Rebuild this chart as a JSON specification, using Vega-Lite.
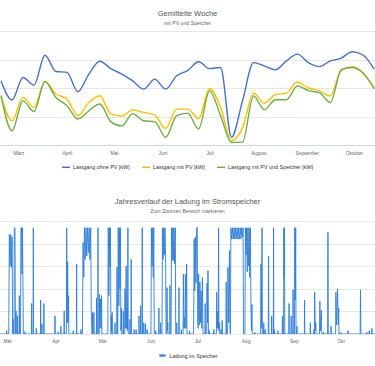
{
 "$schema": "https://vega.github.io/schema/vega-lite/v6.json",
 "background": "white",
 "padding": {"top": 10, "left": 0, "right": 0, "bottom": 0},
 "spacing": 27,
 "resolve": {"scale": {"color": "independent"}, "legend": {"color": "independent"}},
 "config": {
  "font": "Liberation Sans",
  "view": {"stroke": null},
  "title": {"fontSize": 7.5, "fontWeight": "normal", "color": "#555555", "subtitleFontSize": 5.2, "subtitleColor": "#666666", "subtitlePadding": 3, "anchor": "middle"},
  "legend": {"layout": {"bottom": {"anchor": "middle"}}}
 },
 "vconcat": [
  {
   "width": 375,
   "height": 114,
   "title": {"text": "Gemittelte Woche", "subtitle": "mit PV und Speicher", "offset": 5},
   "data": {"values": [
    {"woche":"2023-02-18T00:00","serie":"Lastgang ohne PV [kW]","wert":2.25},
    {"woche":"2023-02-25T00:00","serie":"Lastgang ohne PV [kW]","wert":1.58},
    {"woche":"2023-03-04T00:00","serie":"Lastgang ohne PV [kW]","wert":2.37},
    {"woche":"2023-03-11T00:00","serie":"Lastgang ohne PV [kW]","wert":2.10},
    {"woche":"2023-03-18T00:00","serie":"Lastgang ohne PV [kW]","wert":3.15},
    {"woche":"2023-03-25T00:00","serie":"Lastgang ohne PV [kW]","wert":2.58},
    {"woche":"2023-04-01T00:00","serie":"Lastgang ohne PV [kW]","wert":2.55},
    {"woche":"2023-04-08T00:00","serie":"Lastgang ohne PV [kW]","wert":1.87},
    {"woche":"2023-04-15T00:00","serie":"Lastgang ohne PV [kW]","wert":2.49},
    {"woche":"2023-04-22T00:00","serie":"Lastgang ohne PV [kW]","wert":2.94},
    {"woche":"2023-04-29T00:00","serie":"Lastgang ohne PV [kW]","wert":2.68},
    {"woche":"2023-05-06T00:00","serie":"Lastgang ohne PV [kW]","wert":2.49},
    {"woche":"2023-05-13T00:00","serie":"Lastgang ohne PV [kW]","wert":2.25},
    {"woche":"2023-05-20T00:00","serie":"Lastgang ohne PV [kW]","wert":1.96},
    {"woche":"2023-05-27T00:00","serie":"Lastgang ohne PV [kW]","wert":2.31},
    {"woche":"2023-06-03T00:00","serie":"Lastgang ohne PV [kW]","wert":1.96},
    {"woche":"2023-06-10T00:00","serie":"Lastgang ohne PV [kW]","wert":2.43},
    {"woche":"2023-06-17T00:00","serie":"Lastgang ohne PV [kW]","wert":2.61},
    {"woche":"2023-06-24T00:00","serie":"Lastgang ohne PV [kW]","wert":2.92},
    {"woche":"2023-07-01T00:00","serie":"Lastgang ohne PV [kW]","wert":2.68},
    {"woche":"2023-07-08T00:00","serie":"Lastgang ohne PV [kW]","wert":2.72},
    {"woche":"2023-07-15T00:00","serie":"Lastgang ohne PV [kW]","wert":0.27},
    {"woche":"2023-07-22T00:00","serie":"Lastgang ohne PV [kW]","wert":1.55},
    {"woche":"2023-07-29T00:00","serie":"Lastgang ohne PV [kW]","wert":2.89},
    {"woche":"2023-08-05T00:00","serie":"Lastgang ohne PV [kW]","wert":2.77},
    {"woche":"2023-08-12T00:00","serie":"Lastgang ohne PV [kW]","wert":2.64},
    {"woche":"2023-08-19T00:00","serie":"Lastgang ohne PV [kW]","wert":2.95},
    {"woche":"2023-08-26T00:00","serie":"Lastgang ohne PV [kW]","wert":3.19},
    {"woche":"2023-09-02T00:00","serie":"Lastgang ohne PV [kW]","wert":2.89},
    {"woche":"2023-09-09T00:00","serie":"Lastgang ohne PV [kW]","wert":2.75},
    {"woche":"2023-09-16T00:00","serie":"Lastgang ohne PV [kW]","wert":2.95},
    {"woche":"2023-09-23T00:00","serie":"Lastgang ohne PV [kW]","wert":3.05},
    {"woche":"2023-09-30T00:00","serie":"Lastgang ohne PV [kW]","wert":3.27},
    {"woche":"2023-10-07T00:00","serie":"Lastgang ohne PV [kW]","wert":3.15},
    {"woche":"2023-10-14T00:00","serie":"Lastgang ohne PV [kW]","wert":2.66},
    {"woche":"2023-02-18T00:00","serie":"Lastgang mit PV [kW]","wert":1.73},
    {"woche":"2023-02-25T00:00","serie":"Lastgang mit PV [kW]","wert":0.85},
    {"woche":"2023-03-04T00:00","serie":"Lastgang mit PV [kW]","wert":1.67},
    {"woche":"2023-03-11T00:00","serie":"Lastgang mit PV [kW]","wert":1.32},
    {"woche":"2023-03-18T00:00","serie":"Lastgang mit PV [kW]","wert":2.23},
    {"woche":"2023-03-25T00:00","serie":"Lastgang mit PV [kW]","wert":1.79},
    {"woche":"2023-04-01T00:00","serie":"Lastgang mit PV [kW]","wert":1.61},
    {"woche":"2023-04-08T00:00","serie":"Lastgang mit PV [kW]","wert":1.03},
    {"woche":"2023-04-15T00:00","serie":"Lastgang mit PV [kW]","wert":1.49},
    {"woche":"2023-04-22T00:00","serie":"Lastgang mit PV [kW]","wert":1.73},
    {"woche":"2023-04-29T00:00","serie":"Lastgang mit PV [kW]","wert":1.09},
    {"woche":"2023-05-06T00:00","serie":"Lastgang mit PV [kW]","wert":1.02},
    {"woche":"2023-05-13T00:00","serie":"Lastgang mit PV [kW]","wert":1.23},
    {"woche":"2023-05-20T00:00","serie":"Lastgang mit PV [kW]","wert":1.14},
    {"woche":"2023-05-27T00:00","serie":"Lastgang mit PV [kW]","wert":1.05},
    {"woche":"2023-06-03T00:00","serie":"Lastgang mit PV [kW]","wert":0.58},
    {"woche":"2023-06-10T00:00","serie":"Lastgang mit PV [kW]","wert":1.26},
    {"woche":"2023-06-17T00:00","serie":"Lastgang mit PV [kW]","wert":1.26},
    {"woche":"2023-06-24T00:00","serie":"Lastgang mit PV [kW]","wert":0.93},
    {"woche":"2023-07-01T00:00","serie":"Lastgang mit PV [kW]","wert":1.98},
    {"woche":"2023-07-08T00:00","serie":"Lastgang mit PV [kW]","wert":1.32},
    {"woche":"2023-07-15T00:00","serie":"Lastgang mit PV [kW]","wert":0.15},
    {"woche":"2023-07-22T00:00","serie":"Lastgang mit PV [kW]","wert":0.60},
    {"woche":"2023-07-29T00:00","serie":"Lastgang mit PV [kW]","wert":1.82},
    {"woche":"2023-08-05T00:00","serie":"Lastgang mit PV [kW]","wert":1.47},
    {"woche":"2023-08-12T00:00","serie":"Lastgang mit PV [kW]","wert":1.77},
    {"woche":"2023-08-19T00:00","serie":"Lastgang mit PV [kW]","wert":1.82},
    {"woche":"2023-08-26T00:00","serie":"Lastgang mit PV [kW]","wert":2.21},
    {"woche":"2023-09-02T00:00","serie":"Lastgang mit PV [kW]","wert":2.00},
    {"woche":"2023-09-09T00:00","serie":"Lastgang mit PV [kW]","wert":1.91},
    {"woche":"2023-09-16T00:00","serie":"Lastgang mit PV [kW]","wert":1.72},
    {"woche":"2023-09-23T00:00","serie":"Lastgang mit PV [kW]","wert":2.63},
    {"woche":"2023-09-30T00:00","serie":"Lastgang mit PV [kW]","wert":2.75},
    {"woche":"2023-10-07T00:00","serie":"Lastgang mit PV [kW]","wert":2.52},
    {"woche":"2023-10-14T00:00","serie":"Lastgang mit PV [kW]","wert":2.00},
    {"woche":"2023-02-18T00:00","serie":"Lastgang mit PV und Speicher [kW]","wert":1.73},
    {"woche":"2023-02-25T00:00","serie":"Lastgang mit PV und Speicher [kW]","wert":0.50},
    {"woche":"2023-03-04T00:00","serie":"Lastgang mit PV und Speicher [kW]","wert":1.55},
    {"woche":"2023-03-11T00:00","serie":"Lastgang mit PV und Speicher [kW]","wert":1.17},
    {"woche":"2023-03-18T00:00","serie":"Lastgang mit PV und Speicher [kW]","wert":2.23},
    {"woche":"2023-03-25T00:00","serie":"Lastgang mit PV und Speicher [kW]","wert":1.67},
    {"woche":"2023-04-01T00:00","serie":"Lastgang mit PV und Speicher [kW]","wert":1.38},
    {"woche":"2023-04-08T00:00","serie":"Lastgang mit PV und Speicher [kW]","wert":0.91},
    {"woche":"2023-04-15T00:00","serie":"Lastgang mit PV und Speicher [kW]","wert":1.20},
    {"woche":"2023-04-22T00:00","serie":"Lastgang mit PV und Speicher [kW]","wert":1.44},
    {"woche":"2023-04-29T00:00","serie":"Lastgang mit PV und Speicher [kW]","wert":0.82},
    {"woche":"2023-05-06T00:00","serie":"Lastgang mit PV und Speicher [kW]","wert":0.67},
    {"woche":"2023-05-13T00:00","serie":"Lastgang mit PV und Speicher [kW]","wert":1.10},
    {"woche":"2023-05-20T00:00","serie":"Lastgang mit PV und Speicher [kW]","wert":0.85},
    {"woche":"2023-05-27T00:00","serie":"Lastgang mit PV und Speicher [kW]","wert":0.82},
    {"woche":"2023-06-03T00:00","serie":"Lastgang mit PV und Speicher [kW]","wert":0.27},
    {"woche":"2023-06-10T00:00","serie":"Lastgang mit PV und Speicher [kW]","wert":1.03},
    {"woche":"2023-06-17T00:00","serie":"Lastgang mit PV und Speicher [kW]","wert":1.12},
    {"woche":"2023-06-24T00:00","serie":"Lastgang mit PV und Speicher [kW]","wert":0.56},
    {"woche":"2023-07-01T00:00","serie":"Lastgang mit PV und Speicher [kW]","wert":1.90},
    {"woche":"2023-07-08T00:00","serie":"Lastgang mit PV und Speicher [kW]","wert":1.03},
    {"woche":"2023-07-15T00:00","serie":"Lastgang mit PV und Speicher [kW]","wert":0.09},
    {"woche":"2023-07-22T00:00","serie":"Lastgang mit PV und Speicher [kW]","wert":0.10},
    {"woche":"2023-07-29T00:00","serie":"Lastgang mit PV und Speicher [kW]","wert":1.72},
    {"woche":"2023-08-05T00:00","serie":"Lastgang mit PV und Speicher [kW]","wert":1.24},
    {"woche":"2023-08-12T00:00","serie":"Lastgang mit PV und Speicher [kW]","wert":1.59},
    {"woche":"2023-08-19T00:00","serie":"Lastgang mit PV und Speicher [kW]","wert":1.59},
    {"woche":"2023-08-26T00:00","serie":"Lastgang mit PV und Speicher [kW]","wert":2.07},
    {"woche":"2023-09-02T00:00","serie":"Lastgang mit PV und Speicher [kW]","wert":1.91},
    {"woche":"2023-09-09T00:00","serie":"Lastgang mit PV und Speicher [kW]","wert":1.84},
    {"woche":"2023-09-16T00:00","serie":"Lastgang mit PV und Speicher [kW]","wert":1.49},
    {"woche":"2023-09-23T00:00","serie":"Lastgang mit PV und Speicher [kW]","wert":2.64},
    {"woche":"2023-09-30T00:00","serie":"Lastgang mit PV und Speicher [kW]","wert":2.72},
    {"woche":"2023-10-07T00:00","serie":"Lastgang mit PV und Speicher [kW]","wert":2.52},
    {"woche":"2023-10-14T00:00","serie":"Lastgang mit PV und Speicher [kW]","wert":1.98}
   ]},
   "mark": {"type": "line", "interpolate": "monotone", "strokeWidth": 1.4, "clip": true},
   "encoding": {
    "x": {"field": "woche", "type": "temporal",
     "scale": {"domain": [{"year":2023,"month":2,"date":17,"hours":8},{"year":2023,"month":10,"date":14,"hours":12}]},
     "axis": {"title": null, "values": [{"year":2023,"month":3,"date":1},{"year":2023,"month":4,"date":1},{"year":2023,"month":5,"date":1},{"year":2023,"month":6,"date":1},{"year":2023,"month":7,"date":1},{"year":2023,"month":8,"date":1},{"year":2023,"month":9,"date":1},{"year":2023,"month":10,"date":1}],
      "labelExpr": "['Jan','Feb','März','April','Mai','Juni','Juli','August','September','Oktober','November','Dezember'][month(datum.value)]",
      "grid": false, "ticks": false, "tickSize": 0, "domain": true, "domainColor": "#ccd6eb", "domainWidth": 1,
      "labelFontSize": 4.85, "labelColor": "#666666", "labelPadding": 5, "labelFlush": false, "labelOverlap": false}},
    "y": {"field": "wert", "type": "quantitative",
     "scale": {"domain": [0, 4], "nice": false},
     "axis": {"title": null, "values": [0,1,2,3,4], "labels": false, "ticks": false, "domain": false, "grid": true, "gridColor": "#e6e6e6", "gridWidth": 1}},
    "color": {"field": "serie", "type": "nominal",
     "scale": {"domain": ["Lastgang ohne PV [kW]","Lastgang mit PV [kW]","Lastgang mit PV und Speicher [kW]"], "range": ["#4472c4","#ffc000","#70ad47"]},
     "legend": {"title": null, "orient": "bottom", "direction": "horizontal", "symbolType": "stroke", "symbolSize": 64, "symbolStrokeWidth": 1.5, "labelFontSize": 5.4, "labelColor": "#333333", "columnPadding": 9, "labelOffset": 2, "offset": 7, "padding": 0}}
   }
  },
  {
   "width": 375,
   "height": 113,
   "title": {"text": "Jahresverlauf der Ladung im Stromspeicher", "subtitle": "Zum Zoomen Bereich markieren", "offset": 7},
   "data": {"values": [
    {"tag":55.4,"ladung":0},
    {"tag":59.55,"ladung":0},{"tag":59.7,"ladung":0.3},{"tag":59.85,"ladung":0},
    {"tag":61.0,"ladung":0},{"tag":61.4,"ladung":8.8},{"tag":61.9,"ladung":6.0},{"tag":62.3,"ladung":8.8},{"tag":62.8,"ladung":5.9},{"tag":63.2,"ladung":8.6},{"tag":63.5,"ladung":0},
    {"tag":63.75,"ladung":0},{"tag":63.9,"ladung":1.3},{"tag":64.05,"ladung":0},
    {"tag":64.4,"ladung":0},{"tag":64.6,"ladung":9.4},{"tag":65.0,"ladung":9.4},{"tag":65.3,"ladung":0},
    {"tag":65.55,"ladung":0},{"tag":65.7,"ladung":2.05},{"tag":65.85,"ladung":0},
    {"tag":66.45,"ladung":0},{"tag":66.6,"ladung":1.6},{"tag":66.75,"ladung":0},
    {"tag":67.65,"ladung":0},{"tag":67.8,"ladung":3.4},{"tag":67.95,"ladung":0},
    {"tag":68.6,"ladung":0},{"tag":68.8,"ladung":9.4},{"tag":69.2,"ladung":9.4},{"tag":69.5,"ladung":5.3},{"tag":69.8,"ladung":9.4},{"tag":70.1,"ladung":5.0},{"tag":70.4,"ladung":0},
    {"tag":71.25,"ladung":0},{"tag":71.4,"ladung":0.2},{"tag":71.55,"ladung":0},
    {"tag":75.55,"ladung":0},{"tag":75.7,"ladung":2.7},{"tag":75.85,"ladung":0},
    {"tag":76.65,"ladung":0},{"tag":76.8,"ladung":9.4},{"tag":76.95,"ladung":0},
    {"tag":78.55,"ladung":0},{"tag":78.7,"ladung":0.5},{"tag":78.85,"ladung":0},
    {"tag":81.35,"ladung":0},{"tag":81.5,"ladung":3.0},{"tag":81.65,"ladung":0},
    {"tag":82.15,"ladung":0},{"tag":82.3,"ladung":0.9},{"tag":82.45,"ladung":0},
    {"tag":83.45,"ladung":0},{"tag":83.6,"ladung":2.7},{"tag":83.75,"ladung":0},
    {"tag":90.55,"ladung":0},{"tag":90.7,"ladung":1.6},{"tag":90.85,"ladung":0},
    {"tag":92.65,"ladung":0},{"tag":92.8,"ladung":0.2},{"tag":92.95,"ladung":0},
    {"tag":94.35,"ladung":0},{"tag":94.5,"ladung":0.7},{"tag":94.65,"ladung":0},
    {"tag":96.45,"ladung":0},{"tag":96.6,"ladung":2.05},{"tag":96.75,"ladung":0},
    {"tag":98.0,"ladung":0},{"tag":98.2,"ladung":9.4},{"tag":98.5,"ladung":1.0},{"tag":98.8,"ladung":6.4},{"tag":99.1,"ladung":1.0},{"tag":99.4,"ladung":3.4},{"tag":99.6,"ladung":0},
    {"tag":102.25,"ladung":0},{"tag":102.4,"ladung":0.3},{"tag":102.55,"ladung":0},
    {"tag":104.45,"ladung":0},{"tag":104.6,"ladung":6.2},{"tag":104.75,"ladung":0},
    {"tag":107.25,"ladung":0},{"tag":107.4,"ladung":0.4},{"tag":107.55,"ladung":0},
    {"tag":108.3,"ladung":0},{"tag":108.7,"ladung":8.1},{"tag":109.2,"ladung":5.0},{"tag":109.6,"ladung":9.4},{"tag":110.1,"ladung":6.6},{"tag":110.6,"ladung":9.4},{"tag":111.1,"ladung":6.9},{"tag":111.6,"ladung":9.4},{"tag":112.1,"ladung":7.2},{"tag":112.6,"ladung":9.4},{"tag":113.1,"ladung":6.6},{"tag":113.6,"ladung":9.4},{"tag":114.0,"ladung":2.0},{"tag":114.4,"ladung":0},
    {"tag":114.65,"ladung":0},{"tag":114.8,"ladung":1.9},{"tag":114.95,"ladung":0},
    {"tag":115.55,"ladung":0},{"tag":115.7,"ladung":1.9},{"tag":115.85,"ladung":0},
    {"tag":117.25,"ladung":0},{"tag":117.4,"ladung":3.2},{"tag":117.55,"ladung":0},
    {"tag":118.15,"ladung":0},{"tag":118.3,"ladung":9.4},{"tag":118.45,"ladung":0},
    {"tag":119.05,"ladung":0},{"tag":119.2,"ladung":3.5},{"tag":119.5,"ladung":0.5},{"tag":119.9,"ladung":3.1},{"tag":120.25,"ladung":0.5},{"tag":120.6,"ladung":3.4},{"tag":120.8,"ladung":0},
    {"tag":124.6,"ladung":0},{"tag":124.9,"ladung":9.4},{"tag":125.3,"ladung":3.4},{"tag":125.6,"ladung":9.4},{"tag":126.0,"ladung":6.0},{"tag":126.3,"ladung":9.4},{"tag":126.6,"ladung":0},
    {"tag":126.75,"ladung":0},{"tag":126.9,"ladung":1.6},{"tag":127.1,"ladung":0.3},{"tag":127.4,"ladung":1.9},{"tag":127.6,"ladung":0},
    {"tag":129.05,"ladung":0},{"tag":129.2,"ladung":1.0},{"tag":129.35,"ladung":0},
    {"tag":130.35,"ladung":0},{"tag":130.5,"ladung":5.9},{"tag":130.65,"ladung":0},
    {"tag":131.0,"ladung":0},{"tag":131.3,"ladung":9.4},{"tag":131.7,"ladung":2.5},{"tag":132.0,"ladung":9.4},{"tag":132.4,"ladung":4.0},{"tag":132.7,"ladung":9.4},{"tag":133.0,"ladung":0.3},{"tag":133.3,"ladung":2.3},{"tag":133.5,"ladung":0},
    {"tag":134.35,"ladung":0},{"tag":134.5,"ladung":2.05},{"tag":134.65,"ladung":0},
    {"tag":135.45,"ladung":0},{"tag":135.6,"ladung":4.0},{"tag":135.8,"ladung":0.5},{"tag":136.4,"ladung":6.0},{"tag":136.7,"ladung":0.5},{"tag":137.0,"ladung":2.3},{"tag":137.2,"ladung":0.3},{"tag":137.5,"ladung":9.4},{"tag":137.7,"ladung":0},
    {"tag":138.65,"ladung":0},{"tag":138.8,"ladung":1.3},{"tag":138.95,"ladung":0},
    {"tag":139.45,"ladung":0},{"tag":139.6,"ladung":6.6},{"tag":139.75,"ladung":0},
    {"tag":141.35,"ladung":0},{"tag":141.5,"ladung":0.4},{"tag":141.65,"ladung":0},
    {"tag":142.65,"ladung":0},{"tag":142.8,"ladung":0.4},{"tag":142.95,"ladung":0},
    {"tag":144.45,"ladung":0},{"tag":144.6,"ladung":1.6},{"tag":144.75,"ladung":0},
    {"tag":145.55,"ladung":0},{"tag":145.7,"ladung":2.5},{"tag":145.85,"ladung":0},
    {"tag":146.55,"ladung":0},{"tag":146.7,"ladung":9.4},{"tag":146.85,"ladung":0},
    {"tag":147.55,"ladung":0},{"tag":147.7,"ladung":1.0},{"tag":147.85,"ladung":0},
    {"tag":148.65,"ladung":0},{"tag":148.8,"ladung":0.9},{"tag":148.95,"ladung":0},
    {"tag":149.65,"ladung":0},{"tag":149.8,"ladung":0.4},{"tag":149.95,"ladung":0},
    {"tag":152.3,"ladung":0},{"tag":152.6,"ladung":9.4},{"tag":153.0,"ladung":6.0},{"tag":153.4,"ladung":9.4},{"tag":153.8,"ladung":5.0},{"tag":154.1,"ladung":9.4},{"tag":154.4,"ladung":0},
    {"tag":155.15,"ladung":0},{"tag":155.3,"ladung":0.3},{"tag":155.45,"ladung":0},
    {"tag":157.25,"ladung":0},{"tag":157.4,"ladung":2.3},{"tag":157.55,"ladung":0},
    {"tag":158.35,"ladung":0},{"tag":158.5,"ladung":1.0},{"tag":158.65,"ladung":0},
    {"tag":159.4,"ladung":0},{"tag":159.7,"ladung":9.4},{"tag":160.1,"ladung":6.6},{"tag":160.5,"ladung":9.4},{"tag":160.9,"ladung":7.0},{"tag":161.3,"ladung":9.4},{"tag":161.7,"ladung":6.8},{"tag":162.0,"ladung":0},
    {"tag":162.45,"ladung":0},{"tag":162.6,"ladung":4.1},{"tag":162.85,"ladung":0.3},{"tag":163.1,"ladung":1.0},{"tag":163.25,"ladung":0},
    {"tag":164.35,"ladung":0},{"tag":164.5,"ladung":4.3},{"tag":164.65,"ladung":0},
    {"tag":165.2,"ladung":0},{"tag":165.5,"ladung":9.4},{"tag":165.9,"ladung":6.5},{"tag":166.3,"ladung":9.4},{"tag":166.7,"ladung":6.5},{"tag":167.1,"ladung":9.4},{"tag":167.5,"ladung":6.2},{"tag":167.9,"ladung":9.4},{"tag":168.2,"ladung":0},
    {"tag":168.75,"ladung":0},{"tag":168.9,"ladung":1.0},{"tag":169.05,"ladung":0},
    {"tag":170.15,"ladung":0},{"tag":170.3,"ladung":4.1},{"tag":170.45,"ladung":0},
    {"tag":171.65,"ladung":0},{"tag":171.8,"ladung":0.4},{"tag":171.95,"ladung":0},
    {"tag":172.9,"ladung":0},{"tag":173.1,"ladung":5.3},{"tag":173.45,"ladung":0.5},{"tag":173.8,"ladung":1.5},{"tag":174.1,"ladung":0.5},{"tag":174.4,"ladung":5.3},{"tag":174.8,"ladung":0.5},{"tag":175.2,"ladung":6.2},{"tag":175.4,"ladung":0},
    {"tag":176.95,"ladung":0},{"tag":177.1,"ladung":0.3},{"tag":177.25,"ladung":0},
    {"tag":179.7,"ladung":0},{"tag":180.0,"ladung":8.4},{"tag":180.4,"ladung":3.8},{"tag":180.8,"ladung":8.6},{"tag":181.2,"ladung":4.5},{"tag":181.6,"ladung":9.4},{"tag":182.0,"ladung":9.4},{"tag":182.3,"ladung":1.0},{"tag":182.6,"ladung":0.5},{"tag":182.9,"ladung":5.3},{"tag":183.3,"ladung":0.8},{"tag":183.7,"ladung":4.6},{"tag":184.1,"ladung":1.0},{"tag":184.5,"ladung":3.8},{"tag":184.9,"ladung":0.5},{"tag":185.3,"ladung":5.0},{"tag":185.7,"ladung":0},
    {"tag":186.95,"ladung":0},{"tag":187.1,"ladung":2.7},{"tag":187.25,"ladung":0},
    {"tag":188.1,"ladung":0},{"tag":188.3,"ladung":4.5},{"tag":188.6,"ladung":1.0},{"tag":188.9,"ladung":5.6},{"tag":189.2,"ladung":0},
    {"tag":189.65,"ladung":0},{"tag":189.8,"ladung":0.3},{"tag":189.95,"ladung":0},
    {"tag":192.55,"ladung":0},{"tag":192.7,"ladung":0.4},{"tag":192.85,"ladung":0},
    {"tag":194.3,"ladung":0},{"tag":194.5,"ladung":3.7},{"tag":194.85,"ladung":0.5},{"tag":195.2,"ladung":2.0},{"tag":195.45,"ladung":0.5},{"tag":195.7,"ladung":9.4},{"tag":195.9,"ladung":0.3},{"tag":196.3,"ladung":1.0},{"tag":196.5,"ladung":0},
    {"tag":197.15,"ladung":0},{"tag":197.3,"ladung":0.4},{"tag":197.45,"ladung":0},
    {"tag":197.85,"ladung":0},{"tag":198.0,"ladung":1.2},{"tag":198.15,"ladung":0},
    {"tag":200.45,"ladung":0},{"tag":200.6,"ladung":4.6},{"tag":200.75,"ladung":0},
    {"tag":201.5,"ladung":0},{"tag":201.7,"ladung":5.9},{"tag":202.2,"ladung":1.0},{"tag":202.7,"ladung":7.4},{"tag":203.0,"ladung":1.0},
    {"tag":203.3,"ladung":0},{"tag":203.6,"ladung":9.4},{"tag":204.1,"ladung":8.4},{"tag":204.6,"ladung":9.4},{"tag":205.1,"ladung":8.4},{"tag":205.6,"ladung":9.4},{"tag":206.1,"ladung":8.4},{"tag":206.6,"ladung":9.4},{"tag":207.1,"ladung":8.4},{"tag":207.6,"ladung":9.4},{"tag":208.1,"ladung":8.4},{"tag":208.6,"ladung":9.4},{"tag":209.1,"ladung":8.4},{"tag":209.6,"ladung":9.4},{"tag":210.1,"ladung":8.4},{"tag":210.6,"ladung":9.4},{"tag":211.1,"ladung":8.6},{"tag":211.4,"ladung":9.4},{"tag":211.7,"ladung":0},
    {"tag":212.6,"ladung":0},{"tag":212.9,"ladung":9.4},{"tag":213.3,"ladung":7.0},{"tag":213.7,"ladung":9.4},{"tag":214.1,"ladung":5.5},{"tag":214.5,"ladung":9.4},{"tag":214.9,"ladung":6.0},{"tag":215.3,"ladung":9.4},{"tag":215.7,"ladung":5.0},{"tag":216.1,"ladung":9.4},{"tag":216.5,"ladung":2.2},{"tag":216.8,"ladung":0.3},{"tag":217.1,"ladung":2.6},{"tag":217.3,"ladung":0},
    {"tag":218.85,"ladung":0},{"tag":219.0,"ladung":0.15},{"tag":219.15,"ladung":0},
    {"tag":222.7,"ladung":0},{"tag":222.9,"ladung":6.2},{"tag":223.2,"ladung":0.5},{"tag":223.6,"ladung":9.4},{"tag":223.8,"ladung":0},
    {"tag":224.55,"ladung":0},{"tag":224.7,"ladung":1.0},{"tag":224.85,"ladung":0},
    {"tag":225.45,"ladung":0},{"tag":225.6,"ladung":0.4},{"tag":225.75,"ladung":0},
    {"tag":227.6,"ladung":0},{"tag":227.8,"ladung":6.9},{"tag":228.0,"ladung":0},
    {"tag":229.65,"ladung":0},{"tag":229.8,"ladung":1.6},{"tag":229.95,"ladung":0},
    {"tag":230.85,"ladung":0},{"tag":231.0,"ladung":9.4},{"tag":231.15,"ladung":0},
    {"tag":231.45,"ladung":0},{"tag":231.6,"ladung":0.4},{"tag":231.75,"ladung":0},
    {"tag":233.65,"ladung":0},{"tag":233.8,"ladung":0.3},{"tag":233.95,"ladung":0},
    {"tag":236.55,"ladung":0},{"tag":236.7,"ladung":1.6},{"tag":236.85,"ladung":0},
    {"tag":237.4,"ladung":0},{"tag":237.6,"ladung":9.4},{"tag":237.8,"ladung":5.0},{"tag":238.0,"ladung":9.4},{"tag":238.2,"ladung":0},
    {"tag":240.75,"ladung":0},{"tag":240.9,"ladung":2.7},{"tag":241.05,"ladung":0},
    {"tag":242.15,"ladung":0},{"tag":242.3,"ladung":1.6},{"tag":242.45,"ladung":0},
    {"tag":243.35,"ladung":0},{"tag":243.5,"ladung":3.9},{"tag":243.65,"ladung":0},
    {"tag":244.4,"ladung":0},{"tag":244.6,"ladung":9.4},{"tag":244.9,"ladung":3.0},{"tag":245.2,"ladung":9.4},{"tag":245.4,"ladung":0},
    {"tag":245.85,"ladung":0},{"tag":246.0,"ladung":0.7},{"tag":246.15,"ladung":0},
    {"tag":250.75,"ladung":0},{"tag":250.9,"ladung":3.0},{"tag":251.05,"ladung":0},
    {"tag":254.45,"ladung":0},{"tag":254.6,"ladung":1.0},{"tag":254.75,"ladung":0},
    {"tag":256.75,"ladung":0},{"tag":256.9,"ladung":0.4},{"tag":257.2,"ladung":0},{"tag":257.4,"ladung":3.7},{"tag":257.75,"ladung":0.3},{"tag":258.1,"ladung":1.0},{"tag":258.3,"ladung":0},
    {"tag":260.45,"ladung":0},{"tag":260.7,"ladung":2.9},{"tag":261.1,"ladung":0.3},{"tag":261.7,"ladung":2.1},{"tag":261.9,"ladung":0},
    {"tag":263.0,"ladung":0},{"tag":263.1,"ladung":0.15},{"tag":263.25,"ladung":0},
    {"tag":265.7,"ladung":0},{"tag":265.9,"ladung":9.0},{"tag":266.1,"ladung":0},
    {"tag":267.75,"ladung":0},{"tag":267.9,"ladung":0.7},{"tag":268.05,"ladung":0},
    {"tag":270.8,"ladung":0},{"tag":271.0,"ladung":3.7},{"tag":271.4,"ladung":0.8},{"tag":272.1,"ladung":4.0},{"tag":272.5,"ladung":0.8},{"tag":272.8,"ladung":2.3},{"tag":273.0,"ladung":0},
    {"tag":273.85,"ladung":0},{"tag":274.0,"ladung":0.15},{"tag":274.15,"ladung":0},
    {"tag":278.55,"ladung":0},{"tag":278.7,"ladung":0.3},{"tag":278.85,"ladung":0},
    {"tag":286.55,"ladung":0},{"tag":286.8,"ladung":3.9},{"tag":287.05,"ladung":0},
    {"tag":290.75,"ladung":0},{"tag":290.9,"ladung":0.15},{"tag":291.05,"ladung":0},
    {"tag":292.25,"ladung":0},{"tag":292.4,"ladung":0.3},{"tag":292.55,"ladung":0},
    {"tag":293.95,"ladung":0},{"tag":294.1,"ladung":0.5},{"tag":294.25,"ladung":0},
    {"tag":296.1,"ladung":0}
   ]},
   "mark": {"type": "line", "strokeWidth": 1, "opacity": 0.9, "clip": true},
   "encoding": {
    "x": {"field": "tag", "type": "quantitative",
     "scale": {"domain": [55.4, 296.1], "nice": false, "zero": false},
     "axis": {"title": null, "values": [60,91,121,152,182,213,244,274],
      "labelExpr": "{'60':'Mär','91':'Apr','121':'Mai','152':'Jun','182':'Jul','213':'Aug','244':'Sep','274':'Okt'}[datum.value]",
      "grid": false, "ticks": false, "tickSize": 0, "domain": false,
      "labelFontSize": 4.85, "labelColor": "#666666", "labelPadding": 4.3, "labelFlush": false, "labelOverlap": false}},
    "y": {"field": "ladung", "type": "quantitative",
     "scale": {"domain": [0, 10], "nice": false},
     "axis": {"title": null, "values": [0,2,4,6,8,10], "labels": false, "ticks": false, "domain": false, "grid": true, "gridColor": "#e6e6e6", "gridWidth": 1}},
    "color": {"datum": "Ladung im Speicher", "type": "nominal",
     "scale": {"range": ["#2f7ed8"]},
     "legend": {"title": null, "orient": "bottom", "direction": "horizontal", "symbolType": "stroke", "symbolSize": 40, "symbolStrokeWidth": 2.5, "symbolStrokeColor": "#74aaea", "labelFontSize": 5.4, "labelColor": "#333333", "labelOffset": 2.5, "offset": 7, "padding": 0}}
   }
  }
 ]
}
